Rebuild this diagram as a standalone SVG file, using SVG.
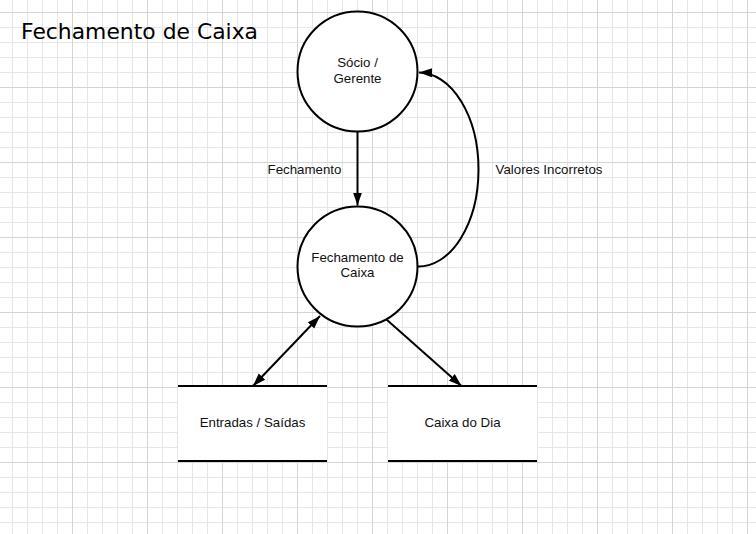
<svg xmlns="http://www.w3.org/2000/svg" width="756" height="534" viewBox="0 0 756 534">
<defs>
<pattern id="minor" width="15" height="15" patternUnits="userSpaceOnUse">
<path d="M12.5 0V15M0 12.5H15" stroke="#e6e6e6" stroke-width="1" fill="none"/>
</pattern>
<pattern id="major" width="75" height="75" patternUnits="userSpaceOnUse">
<path d="M72.5 0V75M0 12.5H75" stroke="#d4d4d4" stroke-width="1" fill="none"/>
</pattern>
<marker id="arrow" markerUnits="userSpaceOnUse" markerWidth="14" markerHeight="10" viewBox="0 0 14 10" refX="13" refY="5" orient="auto-start-reverse">
<path d="M0,0.5 L13,5 L0,9.5 Z" fill="#000"/>
</marker>
</defs>
<style>
.node circle{fill:#fff;stroke:#000;stroke-width:2}
.store rect{fill:#fff;stroke:none}
.store line{stroke:#000;stroke-width:2}
.lbl{font-family:"Liberation Sans",Arial,sans-serif;font-size:13.3px;fill:#111;text-anchor:middle}
.edge{fill:none;stroke:#000;stroke-width:2;marker-end:url(#arrow)}
</style>
<rect width="756" height="534" fill="#fff"/>
<rect width="756" height="534" fill="url(#minor)"/>
<rect width="756" height="534" fill="url(#major)"/>
<text id="title" x="21" y="39" font-family="'DejaVu Sans',sans-serif" font-size="21" fill="#000" textLength="237" lengthAdjust="spacingAndGlyphs">Fechamento de Caixa</text>
<g id="connectors">
<path class="edge" d="M357.5 132 L357.5 205.5"/>
<path class="edge" d="M418 266.5 A60 97 0 0 0 419 72.5"/>
<path class="edge" style="marker-start:url(#arrow)" d="M320 316 L253 386"/>
<path class="edge" d="M386.5 319.5 L461.5 386"/>
<text class="lbl" x="304.5" y="174">Fechamento</text>
<text class="lbl" x="549" y="174">Valores Incorretos</text>
</g>
<g id="socio" class="node">
<circle cx="357.5" cy="71.5" r="60"/>
<text class="lbl" x="357.5" y="67">Sócio /</text>
<text class="lbl" x="357.5" y="83">Gerente</text>
</g>
<g id="fechamento" class="node">
<circle cx="357.5" cy="266.5" r="60"/>
<text class="lbl" x="357.5" y="261.5">Fechamento de</text>
<text class="lbl" x="357.5" y="277">Caixa</text>
</g>
<g id="entradas" class="store">
<rect x="178" y="386" width="149" height="75"/>
<line x1="178" y1="386" x2="327" y2="386"/>
<line x1="178" y1="461" x2="327" y2="461"/>
<text class="lbl" x="252.5" y="427">Entradas / Saídas</text>
</g>
<g id="caixa-dia" class="store">
<rect x="388" y="386" width="149" height="75"/>
<line x1="388" y1="386" x2="537" y2="386"/>
<line x1="388" y1="461" x2="537" y2="461"/>
<text class="lbl" x="462.5" y="427">Caixa do Dia</text>
</g>
</svg>
